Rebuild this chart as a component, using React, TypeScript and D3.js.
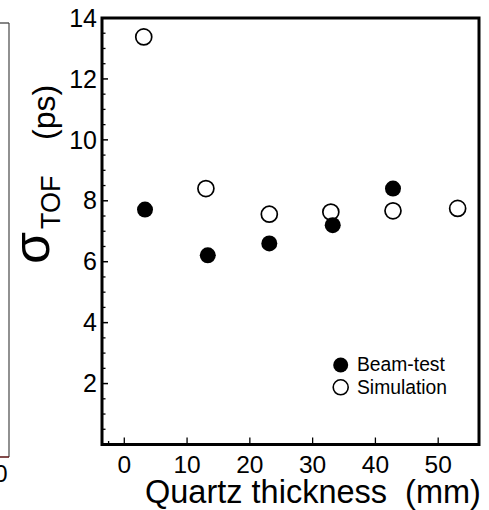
import React from "react";
import * as d3 from "d3";

const beamX = [3.3, 13.3, 23.1, 33.2, 42.8];
const beamY = [7.71, 6.21, 6.6, 7.2, 8.4];
const simX = [3.1, 13.0, 23.1, 32.9, 42.8, 53.1];
const simY = [13.38, 8.4, 7.56, 7.63, 7.67, 7.75];
const xTicks = [0, 10, 20, 30, 40, 50];
const xMinorTicks = [-2.5];
const yTicks = [2, 4, 6, 8, 10, 12, 14];
const yMinorTicks = d3.range(0.5, 14, 0.5).filter((v) => v % 2 !== 0);
const legendLabels = ["Beam-test", "Simulation"];

const FONT = "'Liberation Sans', Arial, Helvetica, sans-serif";

export default function App() {
  const x = d3.scaleLinear().domain([-3.55, 56.5]).range([102, 479]);
  const y = d3.scaleLinear().domain([0, 14]).range([444.5, 18]);
  const [x0, x1] = x.range();
  const [yb, yt] = y.range();
  const r = 8;

  return (
    <svg
      width={489}
      height={510}
      style={{ position: "absolute", left: 0, top: 0, background: "#fff" }}
      fontFamily={FONT}
    >
      {/* partial neighbouring panel at left edge */}
      <line x1={9} x2={9} y1={23} y2={457} stroke="#555" strokeWidth={1.3} />
      <line x1={0} x2={9} y1={23} y2={23} stroke="#444" strokeWidth={1.3} />
      <line x1={0} x2={9} y1={457} y2={457} stroke="#5a1010" strokeWidth={1.5} />
      <text x={1} y={482} fontSize={24} textAnchor="middle" fill="#000">0</text>

      {/* frame */}
      <rect x={x0} y={yt} width={x1 - x0} height={yb - yt} fill="none" stroke="#000" strokeWidth={3} />

      {/* y ticks */}
      {yTicks.map((t) => (
        <g key={"yt" + t}>
          <line x1={x0} x2={x0 + 6} y1={y(t)} y2={y(t)} stroke="#000" strokeWidth={1.5} />
          <text x={97} y={y(t) + 8.7} fontSize={25} textAnchor="end" fill="#000">{t}</text>
        </g>
      ))}
      {yMinorTicks.map((t) => (
        <line key={"ym" + t} x1={x0} x2={x0 + 3.5} y1={y(t)} y2={y(t)} stroke="#000" strokeWidth={1.3} />
      ))}

      {/* x ticks */}
      {xTicks.map((t) => (
        <g key={"xt" + t}>
          <line x1={x(t)} x2={x(t)} y1={yb} y2={yb - 7} stroke="#000" strokeWidth={1.3} />
          <text x={x(t)} y={473} fontSize={24.5} textAnchor="middle" fill="#000">{t}</text>
        </g>
      ))}
      {xMinorTicks.map((t) => (
        <line key={"xm" + t} x1={x(t)} x2={x(t)} y1={yb} y2={yb - 3.5} stroke="#000" strokeWidth={1.3} />
      ))}

      {/* data */}
      {simX.map((v, i) => (
        <circle key={"s" + i} cx={x(v)} cy={y(simY[i])} r={r} fill="#fff" stroke="#000" strokeWidth={1.7} />
      ))}
      {beamX.map((v, i) => (
        <circle key={"b" + i} cx={x(v)} cy={y(beamY[i])} r={r} fill="#000" />
      ))}

      {/* legend */}
      <circle cx={340.7} cy={365} r={7.5} fill="#000" />
      <circle cx={340.7} cy={387.3} r={7.5} fill="#fff" stroke="#000" strokeWidth={1.6} />
      <text x={357} y={371} fontSize={19.3} fill="#000">{legendLabels[0]}</text>
      <text x={357} y={393.5} fontSize={19.3} fill="#000">{legendLabels[1]}</text>

      {/* x title */}
      <text x={145} y={503} fontSize={32.5} fill="#000" style={{ whiteSpace: "pre" }}>
        {"Quartz thickness  (mm)"}
      </text>

      {/* y title */}
      <text transform="translate(49,264) rotate(-90)" fontSize={52} fill="#000">σ</text>
      <text transform="translate(60,229) rotate(-90)" fontSize={27} fill="#000">TOF</text>
      <text transform="translate(55,140) rotate(-90)" fontSize={32} fill="#000">(ps)</text>
    </svg>
  );
}
